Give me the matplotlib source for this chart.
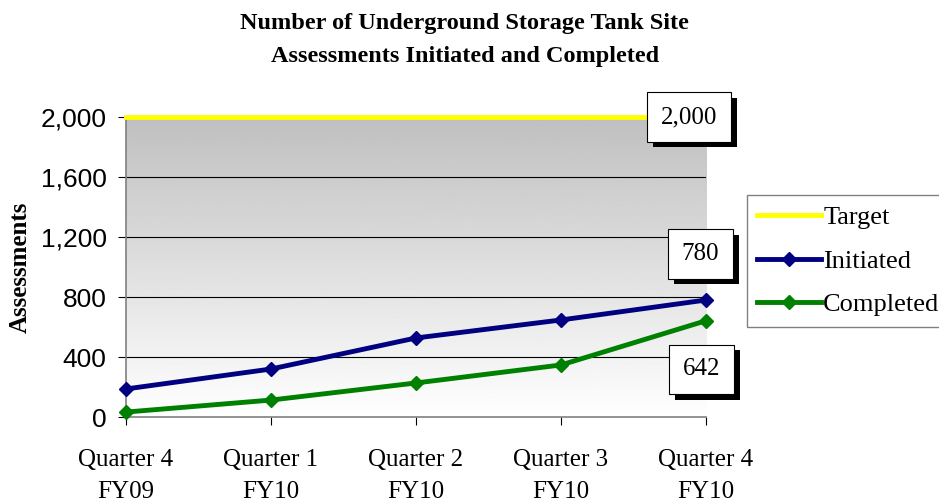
import matplotlib.pyplot as plt
import matplotlib.patheffects as pe
import numpy as np

quarters = ["Quarter 4\nFY09", "Quarter 1\nFY10", "Quarter 2\nFY10", "Quarter 3\nFY10", "Quarter 4\nFY10"]
target = [2000, 2000, 2000, 2000, 2000]
initiated = [187, 320, 527, 647, 780]
completed = [33, 113, 227, 347, 642]
y_ticks = [0, 400, 800, 1200, 1600, 2000]

serif = "Liberation Serif"
sans = "Liberation Sans"

fig = plt.figure(figsize=(9.39, 5.04), dpi=100)
ax = fig.add_axes([0.1342, 0.1726, 0.6177, 0.5952])

x = np.arange(len(quarters))

# grey at the top fading to white at the bottom
grad = np.linspace(0.75, 1.0, 256).reshape(-1, 1)
ax.imshow(grad, cmap="gray", vmin=0, vmax=1, aspect="auto",
          extent=[0, 1, 0, 1], transform=ax.transAxes, zorder=0)

for v in y_ticks[1:-1]:
    ax.axhline(v, color="black", lw=0.8, zorder=1)

ax.plot(x, target, color="#ffff00", lw=3.5, label="Target", zorder=3, clip_on=False)
ax.plot(x, initiated, color="#000080", lw=3.5, marker="D", ms=7, label="Initiated", zorder=4, clip_on=False)
ax.plot(x, completed, color="#008000", lw=3.5, marker="D", ms=7, label="Completed", zorder=4, clip_on=False)

ax.set_xlim(0, len(quarters) - 1)
ax.set_ylim(0, 2000)
ax.set_xticks(x)
ax.set_xticklabels(quarters, fontfamily=serif, fontsize=18, linespacing=1.6)
ax.set_yticks(y_ticks)
ax.set_yticklabels([f"{v:,}" for v in y_ticks], fontfamily=sans, fontsize=19)
ax.tick_params(axis="both", direction="out", length=6, color="black")
ax.tick_params(axis="x", pad=17)
ax.tick_params(axis="y", pad=8)

for s in ["top", "right"]:
    ax.spines[s].set_visible(False)
for s in ["left", "bottom"]:
    ax.spines[s].set_color("#808080")
    ax.spines[s].set_linewidth(1.2)

ax.set_ylabel("Assessments", fontfamily=serif, fontsize=18, fontweight="bold", labelpad=6)

fig.text(0.495, 0.975, "Number of Underground Storage Tank Site\nAssessments Initiated and Completed",
         ha="center", va="top", fontfamily=serif, fontsize=17.5, fontweight="bold", linespacing=1.75)

leg = ax.legend(loc="center left", bbox_to_anchor=(1.07, 0.52), frameon=True, fancybox=False,
                prop={"family": serif, "size": 19}, handlelength=2.4, handletextpad=0.1,
                borderpad=0.4, labelspacing=0.75, borderaxespad=0)
leg.get_frame().set_edgecolor("#606060")
leg.get_frame().set_linewidth(1.0)

labels = [(2000, f"{target[-1]:,}", (-12, 0)), (initiated[-1], f"{initiated[-1]}", (-4, 33)),
          (completed[-1], f"{completed[-1]}", (-3, -35))]
for yv, txt, off in labels:
    t = ax.annotate(txt, xy=(x[-1], yv), xytext=off, textcoords="offset points",
                    ha="center", va="center", fontfamily=serif, fontsize=18, zorder=6,
                    bbox=dict(boxstyle="square,pad=0.55", fc="white", ec="black", lw=0.8),
                    annotation_clip=False)
    t.get_bbox_patch().set_path_effects([pe.SimplePatchShadow(offset=(4, -4), shadow_rgbFace="black", alpha=1),
                                         pe.Normal()])

fig.savefig("out.png", dpi=100)
